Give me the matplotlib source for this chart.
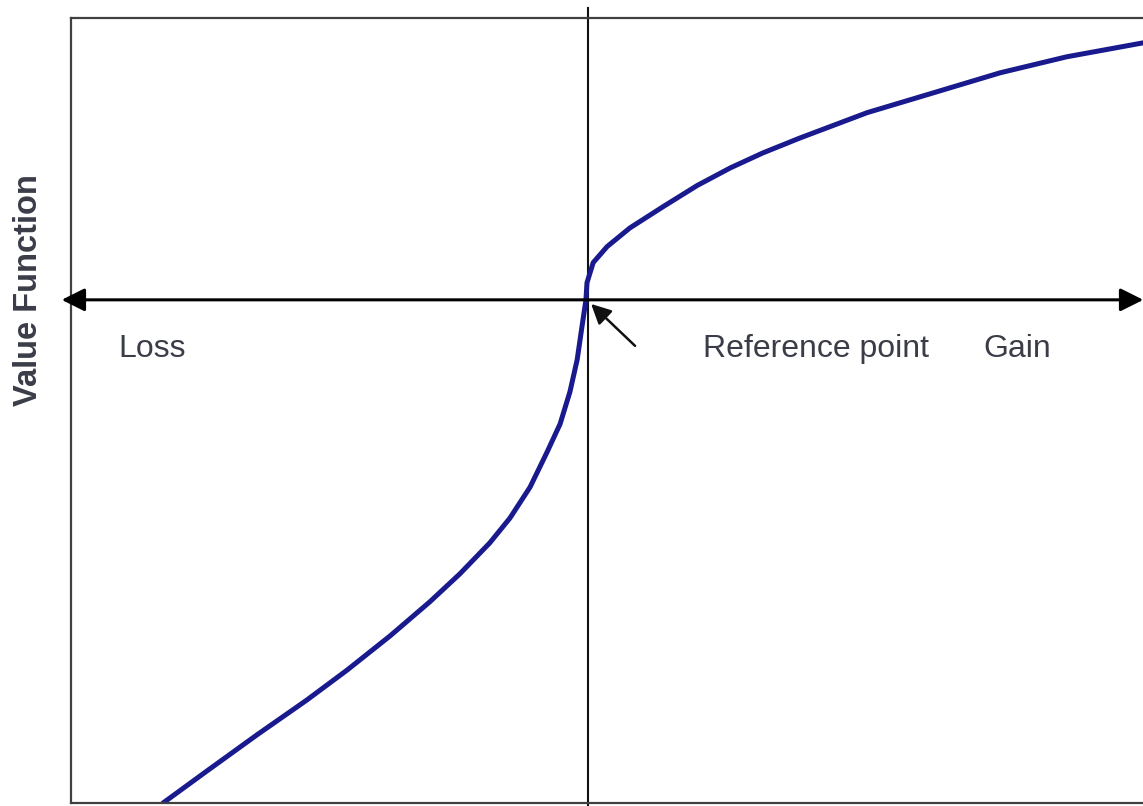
import matplotlib
matplotlib.use("Agg")
import matplotlib.pyplot as plt

# value function (reference point at 0,0)
outcome = [-82.2, -73.7, -64.0, -54.4, -46.6, -38.3, -30.6, -24.8, -19.0, -15.1,
           -11.2, -7.9, -5.4, -3.5, -2.1, -1.2, -0.4, -0.2, 1.0, 3.7, 8.1,
           14.5, 21.1, 27.5, 33.8, 41.0, 54.0, 66.7, 79.7, 92.6, 107.4]
value = [-97.3, -91.1, -84.1, -77.4, -71.6, -65.0, -58.4, -53.0, -47.0, -42.2,
         -36.2, -29.4, -24.0, -17.8, -11.6, -5.4, 0.0, 3.3, 7.2, 10.3, 13.9,
         18.0, 22.1, 25.5, 28.4, 31.3, 36.2, 40.0, 43.9, 47.0, 49.7]

labels = ["Loss", "Reference point", "Gain"]
label_x = [-90.9, 22.2, 76.4]

plt.rcParams['font.family'] = ['Liberation Sans', 'DejaVu Sans']

fig = plt.figure(figsize=(11.43, 8.06), dpi=100)
ax = fig.add_axes([71/1143, 3/806, (1150-71)/1143, (803-18)/806])
ax.set_xlim(-100, 108.7)
ax.set_ylim(-97.3, 54.5)
ax.set_xticks([])
ax.set_yticks([])
for s in ax.spines.values():
	s.set_color('#404040')
	s.set_linewidth(1.6)

# vertical reference line, goes a bit past the box at the top
ax.axvline(0, ymin=-0.01, ymax=1.013, color='#111111', lw=1.5, clip_on=False)

# horizontal axis with arrows at both ends
ax.annotate('', xy=(107.4, 0), xytext=(-101.8, 0), annotation_clip=False,
	arrowprops=dict(arrowstyle='<|-|>,head_length=0.7,head_width=0.35',
		mutation_scale=20, color='black', lw=2.2, shrinkA=0, shrinkB=0))

ax.plot(outcome, value, color='#1a1a8f', lw=3.6, solid_capstyle='round',
	solid_joinstyle='round')

# small arrow at the reference point
ax.annotate('', xy=(0.6, -0.8), xytext=(9.1, -8.9),
	arrowprops=dict(arrowstyle='-|>,head_length=0.6,head_width=0.3',
		mutation_scale=20, color='#111111', lw=1.8, shrinkA=0, shrinkB=0))

for lab, lx in zip(labels, label_x):
	ax.text(lx, -9.5, lab, fontsize=23, color='#3a3d48', ha='left', va='center')

fig.text(29/1143, 1 - 290/806, 'Value Function', rotation=90, fontsize=23.5,
	fontweight='bold', color='#3a3d48', ha='center', va='center')

fig.savefig('out.png', dpi=100, facecolor='white')
